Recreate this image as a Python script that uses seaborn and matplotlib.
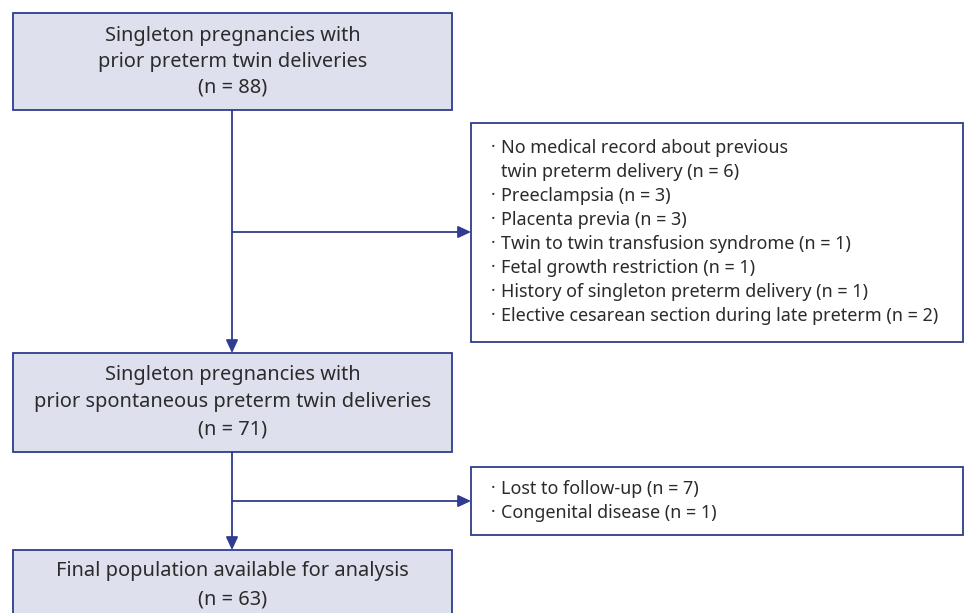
import matplotlib
matplotlib.use("Agg")
import matplotlib.pyplot as plt
import seaborn as sns
from matplotlib.patches import Rectangle, FancyArrowPatch

sns.set_theme(style="white")
plt.rcParams['font.family'] = ['Noto Sans', 'DejaVu Sans']

# ---- data ----
stage_titles = [
    "Singleton pregnancies with\nprior preterm twin deliveries",
    "Singleton pregnancies with\nprior spontaneous preterm twin deliveries",
    "Final population available for analysis",
]
stage_counts = [88, 71, 63]

excl1_labels = [
    "No medical record about previous\ntwin preterm delivery",
    "Preeclampsia",
    "Placenta previa",
    "Twin to twin transfusion syndrome",
    "Fetal growth restriction",
    "History of singleton preterm delivery",
    "Elective cesarean section during late preterm",
]
excl1_counts = [6, 3, 3, 1, 1, 1, 2]

excl2_labels = ["Lost to follow-up", "Congenital disease"]
excl2_counts = [7, 1]

# ---- style ----
EDGE = "#2f3c8f"
FILL = "#dfe0ee"
TXT = "#2b2b2b"

W, H = 966, 613
fig = plt.figure(figsize=(W / 100, H / 100), dpi=100)
ax = fig.add_axes([0, 0, 1, 1])
ax.set_xlim(0, W)
ax.set_ylim(H, 0)
ax.axis("off")

# stage box geometry (pixel space)
stage_boxes = [(13, 13, 452, 110), (13, 353, 452, 452), (13, 550, 452, 640)]
stage_text_y = [[36, 62, 88], [375, 402, 429], [571, 599]]

for (x0, y0, x1, y1), title, n, ys in zip(stage_boxes, stage_titles, stage_counts, stage_text_y):
    ax.add_patch(Rectangle((x0, y0), x1 - x0, y1 - y0, facecolor=FILL,
                           edgecolor=EDGE, linewidth=1.3, zorder=2))
    lines = title.split("\n") + [f"(n = {n})"]
    cx = (x0 + x1) / 2
    for t, yy in zip(lines, ys):
        ax.text(cx, yy, t, ha="center", va="center", fontsize=14.4, color=TXT, zorder=3)

# exclusion boxes
ex_boxes = [(471, 123, 963, 342), (471, 467, 963, 535)]
for (x0, y0, x1, y1) in ex_boxes:
    ax.add_patch(Rectangle((x0, y0), x1 - x0, y1 - y0, facecolor="white",
                           edgecolor=EDGE, linewidth=1.3, zorder=2))

def draw_list(labels, counts, y_start, step):
    yy = y_start
    for lab, c in zip(labels, counts):
        parts = lab.split("\n")
        parts[-1] = parts[-1] + f" (n = {c})"
        for i, p in enumerate(parts):
            if i == 0:
                ax.text(491, yy, "\u00b7", ha="left", va="center", fontsize=12,
                        color=TXT, fontweight="bold", zorder=3)
            ax.text(501, yy, p, ha="left", va="center", fontsize=12.95, color=TXT, zorder=3)
            yy += step

draw_list(excl1_labels, excl1_counts, 148, 24)
draw_list(excl2_labels, excl2_counts, 489, 24)

# connectors
cx = 232
def arrow(p0, p1):
    ax.add_patch(FancyArrowPatch(p0, p1, arrowstyle="-|>,head_length=0.6,head_width=0.28",
                                 mutation_scale=13,
                                 color=EDGE, linewidth=1.3, shrinkA=0, shrinkB=0, zorder=4))

arrow((cx, 110), (cx, 353))
arrow((cx, 232), (471, 232))
arrow((cx, 452), (cx, 550))
arrow((cx, 501), (471, 501))

fig.savefig("out.png", dpi=100, facecolor="white")
